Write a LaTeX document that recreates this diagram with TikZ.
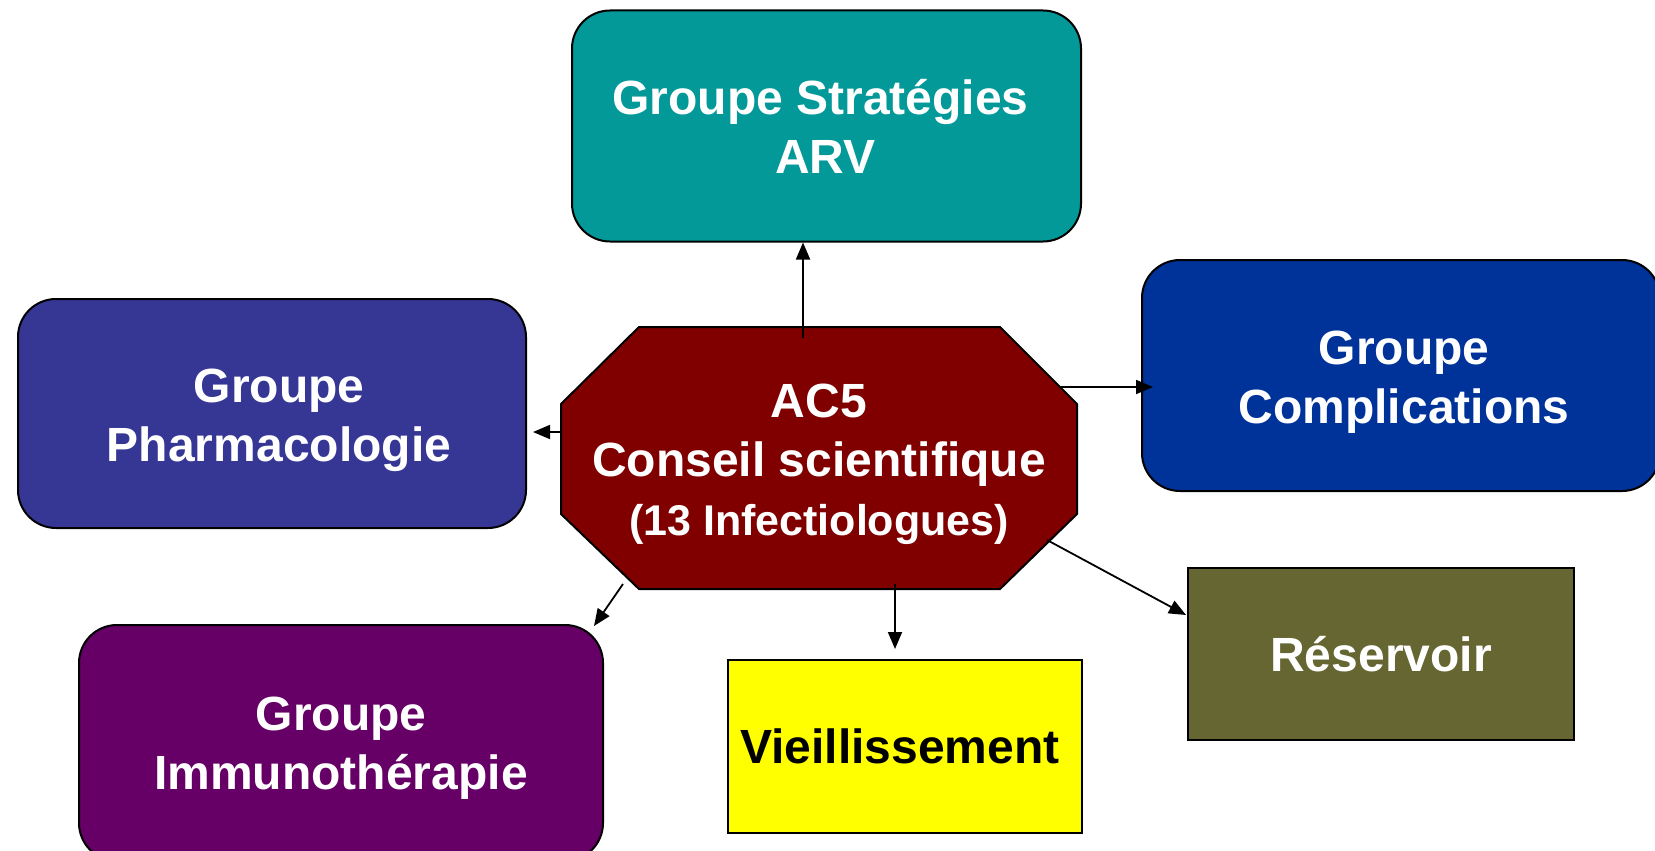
\documentclass[tikz,border=0pt]{standalone}
\usepackage{fontspec}
\setmainfont{Liberation Sans}
\usetikzlibrary{arrows.meta}
\definecolor{cteal}{RGB}{3,153,153}
\definecolor{cpharma}{RGB}{54,55,149}
\definecolor{ccompl}{RGB}{0,51,153}
\definecolor{coct}{RGB}{128,0,0}
\definecolor{cimmuno}{RGB}{102,0,102}
\definecolor{cyell}{RGB}{255,255,0}
\definecolor{cres}{RGB}{102,102,51}
\begin{document}
\begin{tikzpicture}[x=1pt,y=-1pt,
  txt/.style={font=\bfseries\fontsize{48}{59}\selectfont,align=center,inner sep=0pt},
  rbox/.style={draw=black,line width=2pt,rounded corners=38pt,inner sep=0pt},
  sbox/.style={draw=black,line width=2pt,inner sep=0pt},
  arr/.style={line width=1.8pt,-{Triangle[length=17pt,width=14pt]}}]
\useasboundingbox (0,0) rectangle (1655,851);
\clip (0,0) rectangle (1655,851);
\node[rbox,fill=cteal,minimum width=509pt,minimum height=231pt,
  label={[txt,text=white,xshift=-6pt]center:Groupe Stratégies\\\hspace*{10pt}ARV}] (strat) at (826.5,126) {};
\node[rbox,fill=cpharma,minimum width=508pt,minimum height=229pt,
  label={[txt,text=white,xshift=7pt,yshift=-7pt]center:Groupe\\Pharmacologie}] (pharma) at (272,413.5) {};
\node[rbox,fill=ccompl,minimum width=518pt,minimum height=231pt,
  label={[txt,text=white,xshift=3pt,yshift=-7pt]center:Groupe\\Complications}] (compl) at (1401,375.5) {};
\node[rbox,fill=cimmuno,minimum width=524pt,minimum height=236pt,
  label={[txt,text=white,yshift=-5pt]center:Groupe\\Immunothérapie}] (immuno) at (341,743) {};
\node[sbox,fill=cyell,minimum width=354pt,minimum height=173pt,
  label={[txt,text=black,xshift=-5pt]center:Vieillissement}] (vieil) at (905,746.5) {};
\node[sbox,fill=cres,minimum width=386pt,minimum height=172pt,
  label={[txt,text=white]center:Réservoir}] (reserv) at (1381,654) {};
\filldraw[fill=coct,draw=black,line width=2pt] (639,327) -- (1000,327) -- (1077,404) -- (1077,514) -- (1000,589) -- (639,589) -- (561,514) -- (561,404) -- cycle;
\node[txt,text=white] (oct) at (819,464) {AC5\\Conseil scientifique\\{\fontsize{43}{59}\selectfont (13 Infectiologues)}};
\coordinate (s1) at (803,338);
\coordinate (s2) at (561,432);
\coordinate (s3) at (1061,387);
\coordinate (s4) at (1047,540);
\coordinate (s5) at (895,584);
\coordinate (s6) at (623,584);
\coordinate (e2) at (533,432);
\coordinate (e3) at (1153,387);
\coordinate (e4) at (1186,615);
\coordinate (e5) at (895,649);
\coordinate (e6) at (594,626);
\draw[arr] (s1) -- (s1 |- strat.south);
\draw[arr] (s2) -- (e2);
\draw[arr] (s3) -- (e3);
\draw[arr] (s4) -- (e4);
\draw[arr] (s5) -- (e5);
\draw[arr] (s6) -- (e6);
\end{tikzpicture}
\end{document}
